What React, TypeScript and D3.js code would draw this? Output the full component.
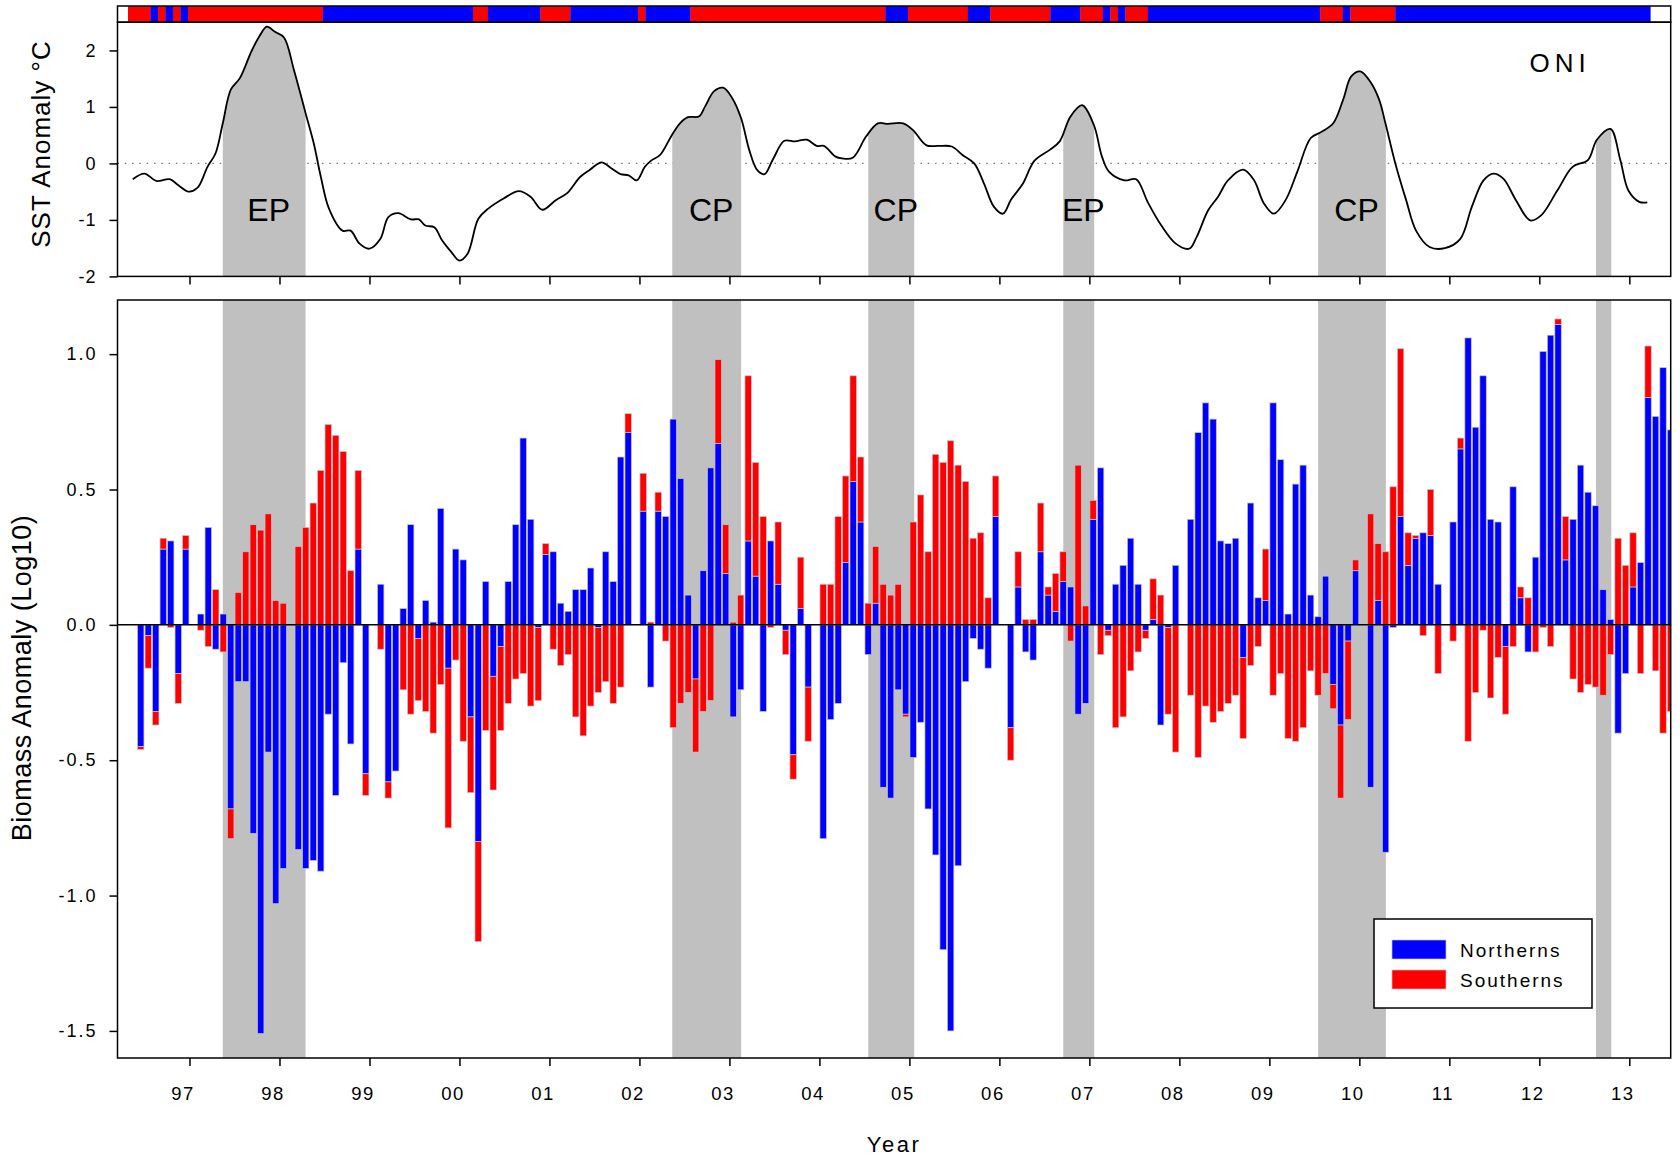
import React, { useEffect, useRef } from 'react';
import * as d3 from 'd3';

// Monthly biomass anomaly (Log10), one value per month from Jun 1996 to Jun 2013.
// null = month not sampled.
const firstMonth = 1996 + 5 / 12;
const northerns = [
  -0.45, -0.04, -0.32, 0.28, 0.31, -0.18, 0.28, null, 0.04, 0.36, -0.09, 0.04,
  -0.68, -0.21, -0.21, -0.77, -1.51, -0.47, -1.03, -0.90, null, -0.83, -0.90, -0.87,
  -0.91, -0.33, -0.63, -0.14, -0.44, 0.28, -0.55, null, 0.15, -0.58, -0.54, 0.06,
  0.37, -0.05, 0.09, 0.01, 0.43, -0.16, 0.28, 0.24, -0.34, -0.80, 0.16, -0.19,
  -0.08, 0.16, 0.37, 0.69, 0.39, -0.01, 0.26, 0.27, 0.08, 0.05, 0.13, 0.13,
  0.21, -0.01, 0.27, 0.16, 0.62, 0.71, null, 0.42, -0.23, 0.42, 0.40, 0.76,
  0.54, 0.11, -0.20, 0.20, 0.58, 0.67, 0.19, -0.34, -0.24, 0.31, 0.18, -0.32,
  0.31, 0.15, -0.02, -0.48, 0.06, -0.23, null, -0.79, -0.35, -0.29, 0.23, 0.53,
  0.38, -0.11, 0.08, -0.60, -0.64, -0.24, -0.33, -0.49, -0.36, -0.68, -0.85, -1.20,
  -1.50, -0.89, -0.21, -0.05, -0.09, -0.16, 0.40, null, -0.38, 0.14, -0.10, -0.13,
  0.27, 0.11, 0.05, 0.16, 0.14, -0.33, -0.29, 0.39, 0.58, -0.02, 0.15, 0.22,
  0.32, 0.15, -0.02, 0.02, -0.37, -0.01, 0.22, null, 0.39, 0.71, 0.82, 0.76,
  0.31, 0.30, 0.32, -0.12, 0.45, 0.10, 0.09, 0.82, 0.61, 0.04, 0.52, 0.59,
  0.11, 0.03, 0.18, -0.22, -0.37, -0.06, 0.20, null, -0.60, 0.09, -0.84, -0.01,
  0.40, 0.22, 0.32, 0.34, 0.33, 0.15, null, 0.38, 0.65, 1.06, 0.73, 0.92,
  0.39, 0.38, -0.08, 0.51, 0.10, -0.10, 0.25, 1.01, 1.07, 1.11, 0.24, 0.39,
  0.59, 0.49, 0.44, 0.13, 0.02, -0.40, -0.18, 0.14, 0.23, 0.84, 0.77, 0.95,
  0.72,
];
const southerns = [
  -0.01, -0.12, -0.05, 0.04, -0.01, -0.11, 0.05, null, -0.02, -0.08, 0.13, -0.10,
  -0.11, 0.12, 0.27, 0.37, 0.35, 0.41, 0.09, 0.08, null, 0.29, 0.36, 0.45,
  0.57, 0.74, 0.70, 0.64, 0.20, 0.29, -0.08, null, -0.09, -0.06, 0.0, -0.24,
  -0.33, -0.23, -0.32, -0.40, -0.22, -0.59, -0.13, -0.43, -0.28, -0.37, -0.39, -0.42,
  -0.31, -0.29, -0.20, -0.18, -0.30, -0.27, 0.04, -0.09, -0.15, -0.11, -0.34, -0.41,
  -0.30, -0.24, -0.21, -0.29, -0.23, 0.07, null, 0.14, 0.01, 0.07, -0.06, -0.38,
  -0.29, -0.25, -0.27, -0.32, -0.28, 0.31, 0.18, 0.01, 0.11, 0.61, 0.42, 0.40,
  -0.01, 0.23, -0.09, -0.09, 0.19, -0.20, null, 0.15, 0.15, 0.40, 0.32, 0.39,
  0.24, 0.08, 0.21, 0.15, 0.11, 0.15, -0.01, 0.38, 0.48, 0.27, 0.63, 0.60,
  0.68, 0.59, 0.53, 0.32, 0.34, 0.10, 0.15, null, -0.12, 0.13, 0.02, 0.02,
  0.18, 0.03, 0.14, 0.11, -0.06, 0.59, 0.07, 0.07, -0.11, -0.02, -0.38, -0.34,
  -0.17, -0.10, -0.03, 0.15, 0.11, -0.32, -0.47, null, -0.26, -0.49, -0.30, -0.36,
  -0.32, -0.29, -0.26, -0.30, -0.15, -0.08, 0.19, -0.26, -0.18, -0.42, -0.43, -0.38,
  -0.17, -0.26, -0.18, -0.09, -0.27, -0.29, 0.04, null, 0.41, 0.21, 0.27, 0.51,
  0.62, 0.12, 0.01, -0.04, 0.17, -0.18, null, -0.06, 0.04, -0.43, -0.25, -0.02,
  -0.27, -0.12, -0.25, -0.08, 0.04, 0.10, -0.10, -0.01, -0.08, 0.02, 0.16, -0.20,
  -0.25, -0.22, -0.23, -0.26, -0.11, 0.32, 0.22, 0.20, -0.18, 0.19, -0.17, -0.40,
  -0.32,
];

// Oceanic Nino Index (SST anomaly, deg C)
const oniYear = [
  1996.37, 1996.5, 1996.63, 1996.78, 1996.88, 1996.99, 1997.09, 1997.2, 1997.29, 1997.37,
  1997.46, 1997.56, 1997.69, 1997.78, 1997.86, 1997.95, 1998.05, 1998.16, 1998.29, 1998.38,
  1998.46, 1998.55, 1998.7, 1998.79, 1998.89, 1999.0, 1999.12, 1999.21, 1999.32, 1999.46,
  1999.55, 1999.62, 1999.72, 1999.81, 1999.91, 2000.0, 2000.09, 2000.21, 2000.32, 2000.49,
  2000.66, 2000.79, 2000.92, 2001.07, 2001.2, 2001.34, 2001.45, 2001.58, 2001.69, 2001.79,
  2001.88, 2001.97, 2002.06, 2002.13, 2002.23, 2002.36, 2002.45, 2002.54, 2002.66, 2002.73,
  2002.83, 2002.93, 2003.03, 2003.13, 2003.22, 2003.31, 2003.39, 2003.48, 2003.61, 2003.73,
  2003.86, 2003.97, 2004.05, 2004.18, 2004.25, 2004.37, 2004.52, 2004.65, 2004.76, 2004.93,
  2005.04, 2005.19, 2005.32, 2005.47, 2005.59, 2005.72, 2005.83, 2005.94, 2006.04, 2006.13,
  2006.26, 2006.39, 2006.56, 2006.67, 2006.79, 2006.92, 2007.05, 2007.14, 2007.22, 2007.39,
  2007.52, 2007.65, 2007.8, 2007.96, 2008.11, 2008.19, 2008.32, 2008.43, 2008.54, 2008.71,
  2008.83, 2008.94, 2009.05, 2009.18, 2009.31, 2009.46, 2009.58, 2009.71, 2009.82, 2009.91,
  2010.01, 2010.12, 2010.22, 2010.29, 2010.4, 2010.52, 2010.63, 2010.78, 2010.95, 2011.12,
  2011.25, 2011.38, 2011.49, 2011.6, 2011.74, 2011.9, 2012.02, 2012.2, 2012.37, 2012.54,
  2012.64, 2012.79, 2012.9, 2012.99, 2013.11, 2013.2,
];
const oniValue = [
  -0.28, -0.18, -0.31, -0.28, -0.39, -0.5, -0.43, -0.06, 0.18, 0.71,
  1.31, 1.51, 1.99, 2.26, 2.42, 2.33, 2.23, 1.66, 0.89, 0.36,
  -0.24, -0.8, -1.19, -1.19, -1.42, -1.51, -1.34, -0.95, -0.88, -0.99,
  -0.99, -1.1, -1.13, -1.37, -1.57, -1.72, -1.6, -0.98, -0.8, -0.62,
  -0.49, -0.59, -0.82, -0.65, -0.52, -0.24, -0.11, 0.02, -0.09, -0.19,
  -0.21, -0.3, -0.06, 0.05, 0.15, 0.5, 0.71, 0.82, 0.83, 1.01,
  1.28, 1.34, 1.16, 0.8, 0.24, -0.12, -0.19, 0.06, 0.4, 0.39,
  0.42, 0.31, 0.31, 0.12, 0.09, 0.1, 0.48, 0.71, 0.7, 0.71,
  0.59, 0.32, 0.31, 0.3, 0.15, 0.0, -0.36, -0.77, -0.89, -0.64,
  -0.36, 0.05, 0.24, 0.39, 0.83, 1.03, 0.68, 0.12, -0.15, -0.3,
  -0.28, -0.69, -1.1, -1.42, -1.51, -1.31, -0.83, -0.59, -0.3, -0.11,
  -0.3, -0.71, -0.89, -0.65, -0.15, 0.45, 0.56, 0.71, 1.13, 1.54,
  1.63, 1.45, 1.13, 0.71, 0.0, -0.65, -1.19, -1.48, -1.5, -1.34,
  -0.77, -0.3, -0.18, -0.27, -0.65, -1.01, -0.92, -0.48, -0.06, 0.06,
  0.42, 0.61, 0.06, -0.48, -0.68, -0.69,
];

// ONI phase strip, run lengths in months
const stripStart = 1996 + 3.8 / 12;
const stripPhase = [
  'warm', 'cool', 'warm', 'cool', 'warm', 'cool', 'warm', 'cool', 'warm', 'cool',
  'warm', 'cool', 'warm', 'cool', 'warm', 'cool', 'warm', 'cool', 'warm', 'cool',
  'warm', 'cool', 'warm', 'cool', 'warm', 'cool', 'warm', 'cool', 'warm', 'cool',
];
const stripMonths = [
  3, 1, 1, 1, 1, 1, 18, 20, 2, 7,
  4, 9, 1, 6, 26, 3, 8, 3, 8, 4,
  3, 1, 1, 1, 3, 23, 3, 1, 6, 34,
];

// El Nino events (EP = eastern Pacific, CP = central Pacific)
const eventStart = [1997.37, 2002.365, 2004.543, 2006.71, 2009.542, 2012.63];
const eventEnd = [1998.29, 2003.13, 2005.054, 2007.054, 2010.295, 2012.8];
const eventType = ['EP', 'CP', 'CP', 'EP', 'CP', ''];

const yearTicks = [1997, 1998, 1999, 2000, 2001, 2002, 2003, 2004, 2005, 2006, 2007, 2008, 2009, 2010, 2011, 2012, 2013];
const yearLabels = ['97', '98', '99', '00', '01', '02', '03', '04', '05', '06', '07', '08', '09', '10', '11', '12', '13'];
const sstTicks = [-2, -1, 0, 1, 2];
const biomassTicks = [-1.5, -1.0, -0.5, 0.0, 0.5, 1.0];

const BLUE = '#0000ff';
const RED = '#ff0000';
const GREY = '#c0c0c0';
const FONT = 'Arial, "Liberation Sans", Helvetica, sans-serif';

function App() {
  const ref = useRef<SVGSVGElement>(null);

  useEffect(() => {
    const svg = d3.select(ref.current);
    svg.selectAll('*').remove();

    const left = 117.5;
    const right = 1670.7;
    const topY0 = 22.2, topY1 = 276.4;
    const botY0 = 300, botY1 = 1058;

    const x = d3.scaleLinear().domain([1996.2, 2013.46]).range([left, right]);
    const yTop = d3.scaleLinear().domain([-2, 2.5]).range([topY1, topY0]);
    const yBot = d3.scaleLinear().domain([-1.6, 1.2]).range([botY1, botY0]);

    svg.append('rect').attr('width', 1680).attr('height', 1157).attr('fill', '#fff');

    const defs = svg.append('defs');
    defs.append('clipPath').attr('id', 'bar-clip')
      .append('rect').attr('x', left).attr('y', botY0).attr('width', right - left).attr('height', botY1 - botY0);

    const events = eventStart.map((s, i) => ({ s, e: eventEnd[i], type: eventType[i] }));
    events.forEach((ev, i) => {
      defs.append('clipPath').attr('id', `ev-clip-${i}`)
        .append('rect').attr('x', x(ev.s)).attr('y', topY0).attr('width', x(ev.e) - x(ev.s)).attr('height', topY1 - topY0);
    });

    // ---- ONI phase strip
    let t = stripStart;
    const cells = stripMonths.map((m, i) => {
      const s = t;
      t += m / 12;
      return { s, e: t, phase: stripPhase[i] };
    });
    svg.append('g').selectAll('rect').data(cells).join('rect')
      .attr('x', d => x(d.s))
      .attr('width', d => x(d.e) - x(d.s) + 0.3)
      .attr('y', 6)
      .attr('height', topY0 - 6)
      .attr('fill', d => (d.phase === 'warm' ? RED : BLUE));
    svg.append('rect')
      .attr('x', left).attr('y', 6).attr('width', right - left).attr('height', topY0 - 6)
      .attr('fill', 'none').attr('stroke', '#000').attr('stroke-width', 1.5);

    // ---- top panel: ONI
    const top = svg.append('g');
    top.append('line')
      .attr('x1', left).attr('x2', right).attr('y1', yTop(0)).attr('y2', yTop(0))
      .attr('stroke', '#777').attr('stroke-width', 1.2).attr('stroke-dasharray', '1.5 5.8');

    const oni = oniYear.map((yr, i) => [yr, oniValue[i]] as [number, number]);
    const curve = d3.curveCatmullRom.alpha(0.5);
    const area = d3.area<[number, number]>()
      .x(d => x(d[0])).y0(yTop(-2)).y1(d => yTop(d[1])).curve(curve);
    const line = d3.line<[number, number]>()
      .x(d => x(d[0])).y(d => yTop(d[1])).curve(curve);

    events.forEach((ev, i) => {
      top.append('path').attr('d', area(oni)).attr('fill', GREY).attr('clip-path', `url(#ev-clip-${i})`);
    });
    top.append('path').attr('d', line(oni))
      .attr('fill', 'none').attr('stroke', '#000').attr('stroke-width', 1.8);

    top.selectAll('text.ev').data(events.filter(d => d.type)).join('text')
      .attr('class', 'ev')
      .attr('x', d => x((d.s + d.e) / 2 + 0.05))
      .attr('y', 221)
      .attr('text-anchor', 'middle')
      .attr('font-family', FONT).attr('font-size', 32)
      .text(d => d.type);

    top.append('text')
      .attr('x', 1529.5).attr('y', 72)
      .attr('font-family', FONT).attr('font-size', 26).attr('letter-spacing', 5)
      .text('ONI');

    top.append('g').attr('transform', `translate(0,${topY1})`)
      .call(d3.axisBottom(x).tickValues(yearTicks).tickSize(8).tickFormat(() => ''))
      .call(g => g.select('.domain').remove())
      .call(g => g.selectAll('line').attr('stroke-width', 1.5));

    top.append('g').attr('transform', `translate(${left},0)`)
      .call(d3.axisLeft(yTop).tickValues(sstTicks).tickSize(8).tickPadding(13).tickFormat(d => String(d)))
      .call(g => g.select('.domain').remove())
      .call(g => g.selectAll('line').attr('stroke-width', 1.5))
      .call(g => g.selectAll('text').attr('font-family', FONT).attr('font-size', 18).attr('letter-spacing', 1).attr('fill', '#000'));

    top.append('rect')
      .attr('x', left).attr('y', topY0).attr('width', right - left).attr('height', topY1 - topY0)
      .attr('fill', 'none').attr('stroke', '#000').attr('stroke-width', 1.5);

    svg.append('text')
      .attr('transform', `translate(41,144) rotate(-90)`)
      .attr('text-anchor', 'middle').attr('dominant-baseline', 'central')
      .attr('font-family', FONT).attr('font-size', 26).attr('letter-spacing', 1)
      .text('SST Anomaly °C');

    // ---- bottom panel: biomass anomalies
    const bot = svg.append('g');
    bot.selectAll('rect.ev').data(events).join('rect')
      .attr('class', 'ev')
      .attr('x', d => x(d.s)).attr('width', d => x(d.e) - x(d.s))
      .attr('y', botY0).attr('height', botY1 - botY0)
      .attr('fill', GREY);

    const segs: { t: number; y0: number; y1: number; c: string }[] = [];
    northerns.forEach((n, i) => {
      const s = southerns[i];
      if (n === null || s === null) return;
      const tm = firstMonth + (i + 0.5) / 12;
      segs.push({ t: tm, y0: 0, y1: n, c: BLUE });
      const stacked = (n >= 0 && s >= 0) || (n < 0 && s < 0);
      const base = stacked ? n : 0;
      segs.push({ t: tm, y0: base, y1: base + s, c: RED });
    });

    const bw = 6.4;
    bot.append('g').attr('clip-path', 'url(#bar-clip)')
      .selectAll('rect').data(segs.filter(d => Math.abs(d.y1 - d.y0) > 0.001)).join('rect')
      .attr('x', d => x(d.t) - bw / 2)
      .attr('width', bw)
      .attr('y', d => yBot(Math.max(d.y0, d.y1)))
      .attr('height', d => Math.abs(yBot(d.y0) - yBot(d.y1)))
      .attr('fill', d => d.c)
      .attr('stroke', '#c4c4cc').attr('stroke-width', 0.7);

    bot.append('line')
      .attr('x1', left).attr('x2', right).attr('y1', yBot(0)).attr('y2', yBot(0))
      .attr('stroke', '#000').attr('stroke-width', 1.5);

    bot.append('g').attr('transform', `translate(0,${botY1})`)
      .call(d3.axisBottom(x).tickValues(yearTicks).tickSize(8).tickPadding(21)
        .tickFormat((d, i) => yearLabels[i]))
      .call(g => g.select('.domain').remove())
      .call(g => g.selectAll('line').attr('stroke-width', 1.5))
      .call(g => g.selectAll('text').attr('x', -7).attr('font-family', FONT).attr('font-size', 18.5)
        .attr('letter-spacing', 1.5).attr('fill', '#000'));

    bot.append('g').attr('transform', `translate(${left},0)`)
      .call(d3.axisLeft(yBot).tickValues(biomassTicks).tickSize(8).tickPadding(12)
        .tickFormat(d => (+d).toFixed(1)))
      .call(g => g.select('.domain').remove())
      .call(g => g.selectAll('line').attr('stroke-width', 1.5))
      .call(g => g.selectAll('text').attr('font-family', FONT).attr('font-size', 18)
        .attr('letter-spacing', 2).attr('fill', '#000'));

    bot.append('rect')
      .attr('x', left).attr('y', botY0).attr('width', right - left).attr('height', botY1 - botY0)
      .attr('fill', 'none').attr('stroke', '#000').attr('stroke-width', 1.5);

    svg.append('text')
      .attr('transform', `translate(22,678) rotate(-90)`)
      .attr('text-anchor', 'middle').attr('dominant-baseline', 'central')
      .attr('font-family', FONT).attr('font-size', 27).attr('letter-spacing', 0.5)
      .text('Biomass Anomaly (Log10)');

    svg.append('text')
      .attr('x', 894).attr('y', 1152)
      .attr('text-anchor', 'middle')
      .attr('font-family', FONT).attr('font-size', 22).attr('letter-spacing', 2.5)
      .text('Year');

    // ---- legend
    const legendNames = ['Northerns', 'Southerns'];
    const legendColors = [BLUE, RED];
    const lg = svg.append('g');
    lg.append('rect')
      .attr('x', 1374).attr('y', 919).attr('width', 218).attr('height', 89)
      .attr('fill', '#fff').attr('stroke', '#000').attr('stroke-width', 1.5);
    legendNames.forEach((name, i) => {
      lg.append('rect')
        .attr('x', 1392).attr('y', 940 + i * 30).attr('width', 54).attr('height', 19)
        .attr('fill', legendColors[i]).attr('stroke', '#c4c4cc').attr('stroke-width', 0.7);
      lg.append('text')
        .attr('x', 1460).attr('y', 956.5 + i * 30)
        .attr('font-family', FONT).attr('font-size', 19).attr('letter-spacing', 2)
        .text(name);
    });
  }, []);

  return (
    <svg
      ref={ref}
      width={1680}
      height={1157}
      style={{ position: 'absolute', left: 0, top: 0 }}
    />
  );
}

export default App;
